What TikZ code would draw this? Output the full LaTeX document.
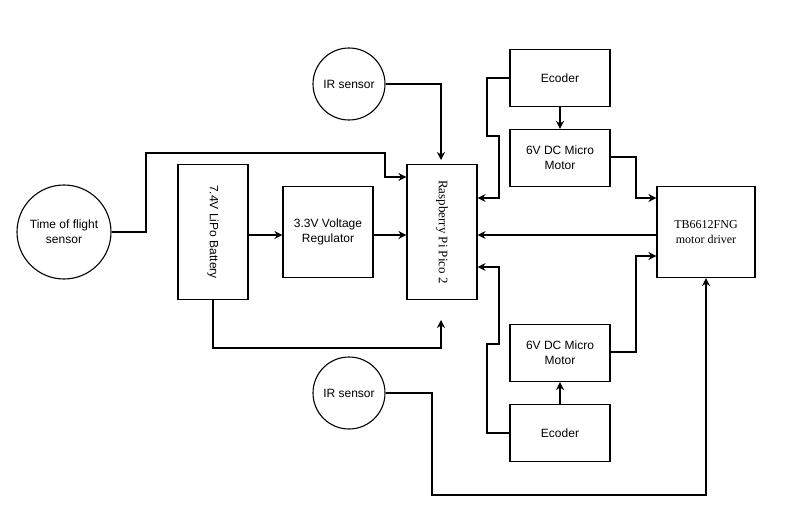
\documentclass[tikz,border=0pt]{standalone}
\usepackage{fontspec}
\setmainfont{Liberation Sans}
\newfontfamily\serifx{Liberation Serif}
\usetikzlibrary{arrows.meta}
\begin{document}
\begin{tikzpicture}[x=1pt,y=-1pt,
  box/.style={draw,line width=1.1pt,align=center,inner sep=0pt,font=\fontsize{12}{15}\selectfont},
  circ/.style={draw,line width=1.1pt,circle,align=center,inner sep=0pt,font=\fontsize{12}{15}\selectfont},
  wire/.style={line width=1.1pt,-{Stealth[length=8pt,width=8pt]}}]
\useasboundingbox (0,0) rectangle (785,532);
\node[circ,minimum size=94] (tof) at (64,232) {Time of flight\\sensor};
\node[box,minimum width=70,minimum height=135] (bat) at (213,232) {};
\node[rotate=-90,font=\fontsize{12}{15}\selectfont] at (bat) {7.4V LiPo Battery};
\node[box,minimum width=90,minimum height=91] (reg) at (328,232) {3.3V Voltage\\Regulator};
\node[box,minimum width=70,minimum height=135] (pico) at (442,232) {};
\node[rotate=-90,font=\serifx\fontsize{13}{15}\selectfont] at (pico) {Raspberry Pi Pico 2};
\node[circ,minimum size=72] (irt) at (349,84) {IR sensor};
\node[circ,minimum size=72] (irb) at (349,393) {IR sensor};
\node[box,minimum width=100,minimum height=57] (ect) at (560,78) {Ecoder};
\node[box,minimum width=100,minimum height=57] (mt) at (560,158) {6V DC Micro\\Motor};
\node[box,minimum width=98,minimum height=91] (tb) at (706,232) {\serifx TB6612FNG\\\serifx motor driver};
\node[box,minimum width=100,minimum height=57] (mb) at (560,353) {6V DC Micro\\Motor};
\node[box,minimum width=100,minimum height=57] (ecb) at (560,433) {Ecoder};
\draw[wire] (tof.east) -- (146,232) -- (146,153) -- (385,153) -- (385,177) -- (pico.west|-0,177);
\draw[wire] (bat.east|-0,235) -- (reg.west|-0,235);
\draw[wire] (reg.east|-0,235) -- (pico.west|-0,235);
\draw[wire] (irt.east) -- (441,84) -- (441,160);
\draw[wire] (bat.south) -- (213,348) -- (441,348) -- (441,320);
\draw[wire] (irb.east) -- (432,393) -- (432,495) -- (706,495) -- (tb.south);
\draw[wire] (ect.west) -- (487,78) -- (487,136) -- (499,136) -- (499,198) -- (pico.east|-0,198);
\draw[wire] (ect.south) -- (mt.north);
\draw[wire] (mt.east|-0,157) -- (636,157) -- (636,198) -- (tb.west|-0,198);
\draw[wire] (tb.west|-0,235) -- (pico.east|-0,235);
\draw[wire] (mb.east|-0,352) -- (636,352) -- (636,256) -- (tb.west|-0,256);
\draw[wire] (ecb.north) -- (mb.south);
\draw[wire] (ecb.west) -- (487,433) -- (487,344) -- (499,344) -- (499,267) -- (pico.east|-0,267);
\end{tikzpicture}
\end{document}
